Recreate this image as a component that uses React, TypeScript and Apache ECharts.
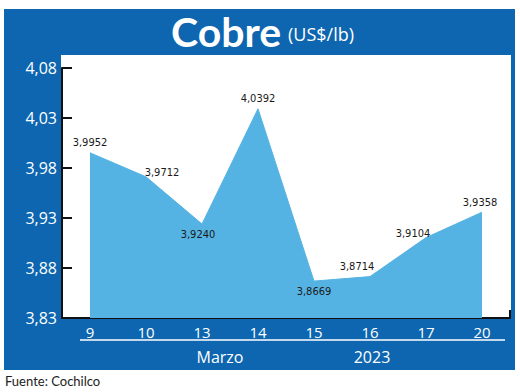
import React, { useEffect, useRef } from "react";
import * as echarts from "echarts";

const categories = ["9", "10", "13", "14", "15", "16", "17", "20"];
const values = [3.9952, 3.9712, 3.924, 4.0392, 3.8669, 3.8714, 3.9104, 3.9358];
const yTicks = { min: 3.83, max: 4.08, interval: 0.05 };
const titleMain = "Cobre";
const titleUnit = "(US$/lb)";
const groupLabels = ["Marzo", "2023"];
const source = "Fuente: Cochilco";

const labelPlacement: { position: string; offset: [number, number] }[] = [
  { position: "top", offset: [0, 0] },
  { position: "top", offset: [16, 6] },
  { position: "bottom", offset: [-4, 0] },
  { position: "top", offset: [0, 0] },
  { position: "bottom", offset: [0, 0] },
  { position: "top", offset: [-13, 0] },
  { position: "top", offset: [-13, 6] },
  { position: "top", offset: [-2, 0] },
];

const fmt = (v: number, d: number) => v.toFixed(d).replace(".", ",");

export default function App() {
  const ref = useRef<HTMLDivElement>(null);
  useEffect(() => {
    if (!ref.current) return;
    const chart = echarts.init(ref.current, undefined, { renderer: "svg" });
    const blue = "#0d66af";
    const font = "'Open Sans', sans-serif";
    chart.setOption({
      animation: false,
      backgroundColor: "#ffffff",
      graphic: [
        { type: "rect", z: -10, shape: { x: 4, y: 9, width: 511, height: 361 }, style: { fill: blue } },
        { type: "rect", z: -9, shape: { x: 61, y: 55, width: 450, height: 263 }, style: { fill: "#ffffff" } },
        {
          type: "text", z: 5, x: 226, y: 31,
          style: { text: titleMain, fill: "#ffffff", font: "bold 41px Lato, sans-serif", align: "center", verticalAlign: "middle" },
        },
        {
          type: "text", z: 5, x: 288, y: 34,
          style: { text: titleUnit, fill: "#ffffff", font: "18px 'Open Sans', sans-serif", align: "left", verticalAlign: "middle" },
        },
        { type: "line", z: 5, shape: { x1: 80, y1: 340, x2: 505, y2: 340 }, style: { stroke: "#ffffff", lineWidth: 1.5 } },
        {
          type: "text", z: 5, x: 220, y: 357,
          style: { text: groupLabels[0], fill: "#ffffff", font: "16px 'Open Sans', sans-serif", align: "center", verticalAlign: "middle" },
        },
        {
          type: "text", z: 5, x: 372, y: 357,
          style: { text: groupLabels[1], fill: "#ffffff", font: "16px 'Open Sans', sans-serif", align: "center", verticalAlign: "middle" },
        },
        { type: "line", z: 5, shape: { x1: 510, y1: 310, x2: 510, y2: 318 }, style: { stroke: "#111111", lineWidth: 2 } },
        {
          type: "text", z: 5, x: 5, y: 381,
          style: { text: source, fill: "#222222", font: "13px Lato, sans-serif", align: "left", verticalAlign: "middle" },
        },
      ],
      grid: { left: 62, right: 10, top: 68, height: 250, containLabel: false },
      xAxis: {
        type: "category",
        data: categories,
        boundaryGap: true,
        axisLine: { show: true, lineStyle: { color: "#111111", width: 2 } },
        axisTick: { show: false },
        axisLabel: { color: "#ffffff", fontSize: 15, fontFamily: font, margin: 6 },
        splitLine: { show: false },
      },
      yAxis: {
        type: "value",
        min: yTicks.min,
        max: yTicks.max,
        interval: yTicks.interval,
        axisLine: { show: true, lineStyle: { color: "#111111", width: 2 } },
        axisTick: { show: true, inside: true, length: 10, lineStyle: { color: "#111111", width: 2 } },
        axisLabel: { color: "#ffffff", fontSize: 16, fontFamily: font, margin: 5, formatter: (v: number) => fmt(v, 2) },
        splitLine: { show: false },
      },
      series: [
        {
          type: "line",
          z: 3,
          data: values.map((v, i) => ({
            value: v,
            label: { position: labelPlacement[i].position, offset: labelPlacement[i].offset },
          })),
          symbol: "circle",
          symbolSize: 1,
          itemStyle: { color: "rgba(0,0,0,0)" },
          lineStyle: { color: "#55b3e3", width: 1 },
          areaStyle: { color: "#55b3e3", opacity: 1 },
          label: {
            show: true,
            color: "#1a1a1a",
            fontSize: 11,
            fontFamily: "'DejaVu Sans Condensed', sans-serif",
            distance: 4,
            formatter: (p: any) => fmt(p.value, 4),
          },
        },
      ],
    });
    return () => chart.dispose();
  }, []);
  return <div ref={ref} style={{ position: "fixed", left: 0, top: 0, width: 520, height: 392 }} />;
}
